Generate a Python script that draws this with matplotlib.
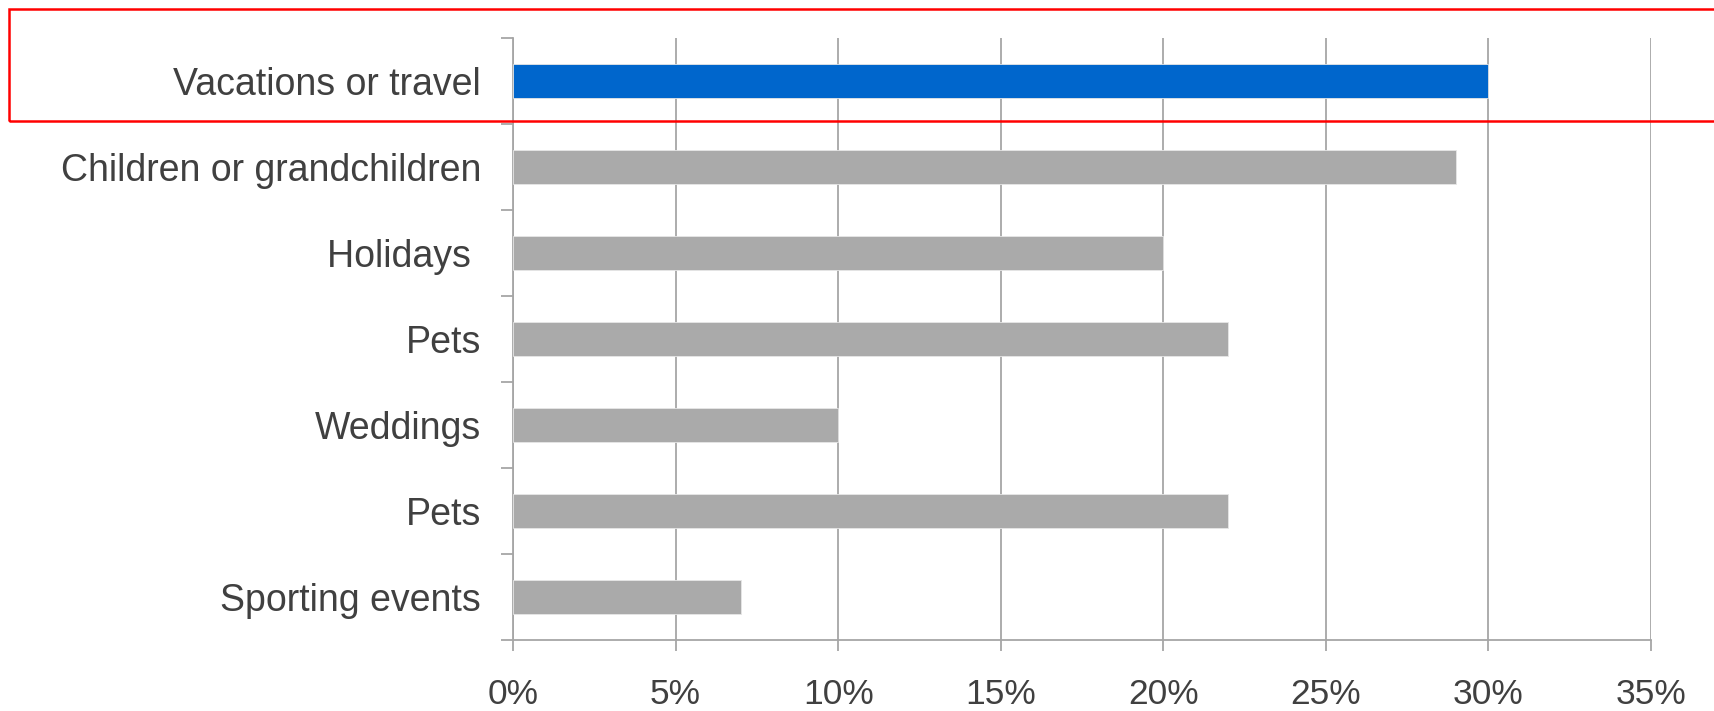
import matplotlib
matplotlib.use("Agg")
import matplotlib.pyplot as plt
from matplotlib.patches import Rectangle
from matplotlib.ticker import FixedLocator, PercentFormatter

categories = ["Vacations or travel", "Children or grandchildren", "Holidays ",
              "Pets", "Weddings", "Pets", "Sporting events"]
values = [30, 29, 20, 22, 10, 22, 7]
bar_colors = ["#0066CC", "#AAAAAA", "#AAAAAA", "#AAAAAA", "#AAAAAA", "#AAAAAA", "#AAAAAA"]
x_ticks = [0, 5, 10, 15, 20, 25, 30, 35]

plt.rcParams["font.family"] = ["Liberation Sans", "DejaVu Sans"]

W, H = 1715, 711
fig = plt.figure(figsize=(W / 100, H / 100), dpi=100)
ax = fig.add_axes([513 / W, 1 - 640 / H, (1651 - 513) / W, (640 - 38) / H])

n = len(categories)
pos = list(range(n))
ax.barh(pos, values, height=0.4, color=bar_colors, edgecolor="#E6E6E6",
        linewidth=0.6, zorder=3)

ax.set_xlim(0, 35)
ax.set_ylim(n - 0.5, -0.5)

grid_c = "#A6A6A6"
ax.set_xticks(x_ticks)
ax.xaxis.set_major_formatter(PercentFormatter(decimals=0))
ax.grid(axis="x", color=grid_c, linewidth=1.3, zorder=0)
ax.set_axisbelow(True)

ax.set_yticks(pos)
ax.set_yticklabels(categories)
ax.yaxis.set_minor_locator(FixedLocator([i - 0.5 for i in range(n + 1)]))
ax.tick_params(axis="y", which="major", length=0, pad=23, labelsize=27,
               labelcolor="#404040")
ax.tick_params(axis="y", which="minor", length=9, width=1.3, color=grid_c,
               direction="out")
ax.tick_params(axis="x", which="major", length=8, width=1.3, color=grid_c,
               direction="out", pad=19, labelsize=25.5, labelcolor="#404040")

for side in ("top", "right"):
    ax.spines[side].set_visible(False)
for side in ("left", "bottom"):
    ax.spines[side].set_color(grid_c)
    ax.spines[side].set_linewidth(1.3)

# highlight frame around the top category
fig.patches.append(Rectangle((9 / W, 1 - 121 / H), (1730 - 9) / W, (121 - 9) / H,
                             transform=fig.transFigure, fill=False,
                             edgecolor="#FF0000", linewidth=1.8, clip_on=False))

fig.savefig("out.png", dpi=100, facecolor="white")
